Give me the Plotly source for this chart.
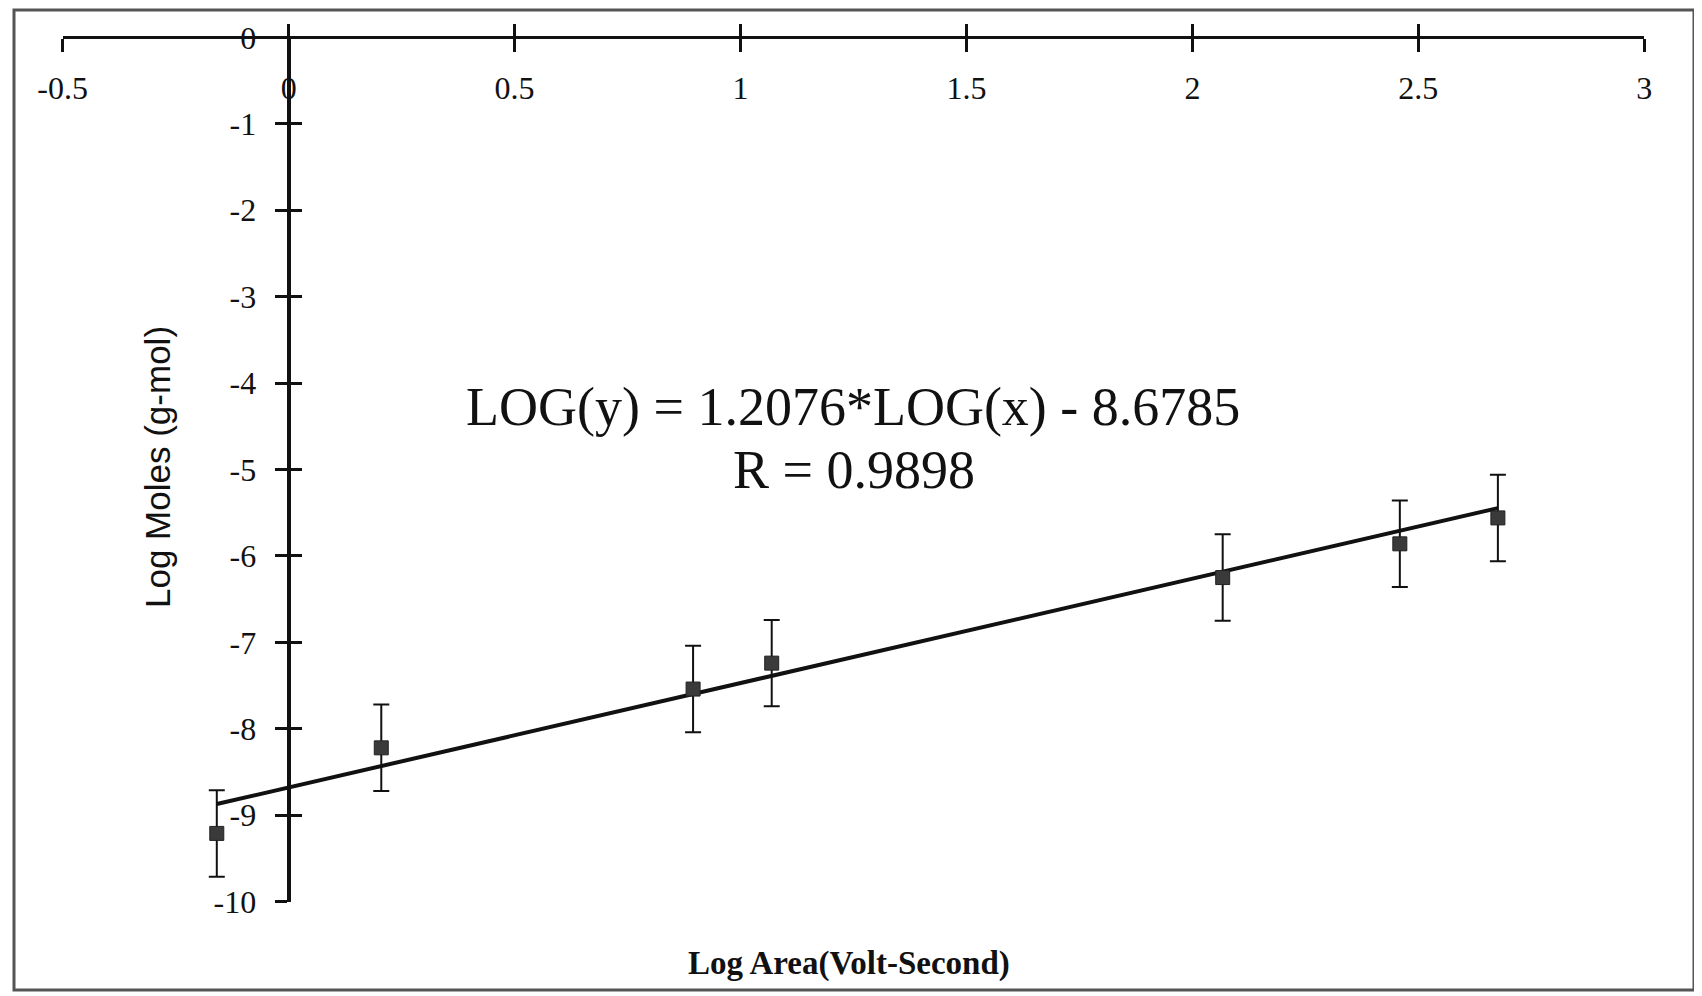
import plotly.graph_objects as go

# Data
log_area = [-0.159, 0.205, 0.895, 1.069, 2.067, 2.459, 2.676]
log_moles = [-9.21, -8.22, -7.54, -7.24, -6.25, -5.86, -5.56]
err = [0.5, 0.5, 0.5, 0.5, 0.5, 0.5, 0.5]
slope = 1.2076
intercept = -8.6785
r_value = 0.9898
x_ticks = [-0.5, 0, 0.5, 1, 1.5, 2, 2.5, 3]
y_ticks = [0, -1, -2, -3, -4, -5, -6, -7, -8, -9, -10]

# page body has an 8px margin; figure placed at (8, 8)
OFF = 8
W, H = 1702 - OFF, 996 - OFF


def px(xp):
    return (xp - OFF) / W


def py(yp):
    return 1 - (yp - OFF) / H


x_dom = [px(62.7), px(1644.3)]
y_dom = [py(901.7), py(37.3)]
x0_frac = x_dom[0] + (0 - (-0.5)) / 3.5 * (x_dom[1] - x_dom[0])

fit_x = [min(log_area), max(log_area)]
fit_y = [slope * v + intercept for v in fit_x]

fig = go.Figure()
fig.add_trace(go.Scatter(
    x=fit_x, y=fit_y, mode="lines",
    line=dict(color="#111111", width=4), showlegend=False, hoverinfo="skip"))
fig.add_trace(go.Scatter(
    x=log_area, y=log_moles, mode="markers",
    marker=dict(symbol="square", size=14, color="#3a3a3a",
                line=dict(color="#222222", width=1)),
    error_y=dict(type="data", array=err, visible=True, color="#111111",
                 thickness=2, width=8),
    showlegend=False))
# dummy trace for the overlay axes (crossing ticks)
fig.add_trace(go.Scatter(x=[None], y=[None], xaxis="x2", yaxis="y2",
                         showlegend=False, hoverinfo="skip"))

serif = "Liberation Serif"
axis_common = dict(showgrid=False, zeroline=False, linecolor="#111111",
                   tickcolor="#111111", automargin=False)

fig.update_layout(
    width=W, height=H,
    margin=dict(l=0, r=0, t=0, b=0, pad=0, autoexpand=False),
    paper_bgcolor="white", plot_bgcolor="white",
    font=dict(family=serif, color="#111111"),
    xaxis=dict(
        domain=x_dom, range=[-0.5, 3], anchor="free", position=y_dom[1],
        side="bottom", showline=True, linewidth=3, ticks="outside",
        ticklen=13, tickwidth=3, tickvals=x_ticks,
        ticktext=[str(v) for v in x_ticks],
        tickfont=dict(family=serif, size=32, color="#111111"),
        ticklabelstandoff=8,
        **axis_common),
    yaxis=dict(
        domain=y_dom, range=[-10, 0], anchor="free", position=x0_frac,
        side="left", showline=True, linewidth=4, ticks="outside",
        ticklen=12, tickwidth=3, tickvals=y_ticks,
        ticktext=[str(v) for v in y_ticks],
        tickfont=dict(family=serif, size=32, color="#111111"),
        ticklabelstandoff=12,
        **axis_common),
    xaxis2=dict(
        domain=x_dom, range=[-0.5, 3], overlaying="x", anchor="free",
        position=y_dom[1], side="bottom", showline=False, ticks="inside",
        ticklen=13, tickwidth=3, tickvals=x_ticks, showticklabels=False,
        **axis_common),
    yaxis2=dict(
        domain=y_dom, range=[-10, 0], overlaying="y", anchor="free",
        position=x0_frac, side="left", showline=False, ticks="inside",
        ticklen=12, tickwidth=3, tickvals=y_ticks, showticklabels=False,
        **axis_common),
    annotations=[
        dict(text=f"LOG(y) = {slope}*LOG(x) - {abs(intercept)}",
             x=px(853), y=py(407), xref="paper", yref="paper",
             xanchor="center", yanchor="middle", showarrow=False,
             font=dict(family=serif, size=54, color="#111111")),
        dict(text=f"R = {r_value}",
             x=px(854), y=py(470), xref="paper", yref="paper",
             xanchor="center", yanchor="middle", showarrow=False,
             font=dict(family=serif, size=54, color="#111111")),
        dict(text="<b>Log Area(Volt-Second)</b>",
             x=px(849), y=py(963), xref="paper", yref="paper",
             xanchor="center", yanchor="middle", showarrow=False,
             font=dict(family=serif, size=33, color="#111111")),
        dict(text="Log Moles (g-mol)", textangle=-90,
             x=px(157), y=py(467), xref="paper", yref="paper",
             xanchor="center", yanchor="middle", showarrow=False,
             font=dict(family="Liberation Sans", size=35, color="#111111")),
    ],
    shapes=[
        dict(type="rect", xref="paper", yref="paper",
             x0=px(14), x1=px(1694), y0=py(990), y1=py(10),
             line=dict(color="#555555", width=3)),
    ],
)

fig.write_html("out.html")
